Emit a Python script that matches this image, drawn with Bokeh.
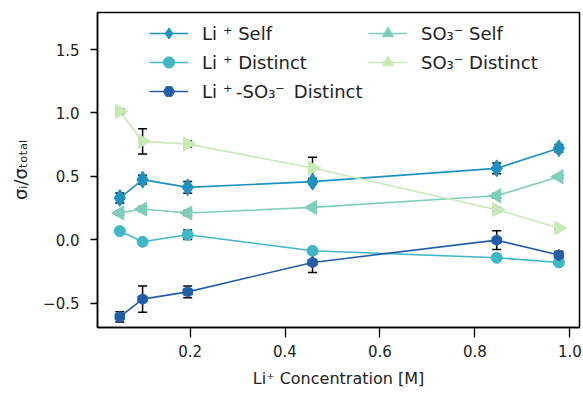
import math
from bokeh.plotting import figure
from bokeh.models import (Range1d, FixedTicker, CustomJSTickFormatter, Legend, LegendItem,
                          Whisker, TeeHead, ColumnDataSource)
from bokeh.embed import file_html
from bokeh.resources import INLINE

# ---- data ----
conc = [0.052, 0.100, 0.195, 0.458, 0.846, 0.977]

li_self = [0.329, 0.474, 0.413, 0.458, 0.563, 0.721]
li_self_err = [0.040, 0.035, 0.047, 0.020, 0.042, 0.030]

li_dist = [0.068, -0.016, 0.039, -0.087, -0.142, -0.179]
li_dist_err = [0.005, 0.015, 0.038, 0.010, 0.010, 0.010]

li_so3_dist = [-0.608, -0.468, -0.411, -0.179, -0.003, -0.121]
li_so3_dist_err = [0.040, 0.103, 0.046, 0.079, 0.074, 0.030]

so3_self = [0.211, 0.242, 0.211, 0.255, 0.347, 0.497]
so3_self_err = [0.015, 0.020, 0.020, 0.010, 0.018, 0.010]

so3_dist = [1.013, 0.776, 0.755, 0.566, 0.237, 0.092]
so3_dist_err = [0.020, 0.099, 0.024, 0.084, 0.018, 0.010]

labels = ["Li\u2004\u207a Self", "Li\u2004\u207a Distinct", "Li\u2004\u207a\u2009-SO\u2083\u207b\u2002Distinct",
          "SO\u2083\u207b Self", "SO\u2083\u207b Distinct"]
colors = ["#1d91c0", "#41b6c4", "#225ea8", "#7fcdbb", "#c7e9b4"]
x_ticks = [0.2, 0.4, 0.6, 0.8, 1.0]
y_ticks = [-0.5, 0.0, 0.5, 1.0, 1.5]

FONT = "DejaVu Sans"

p = figure(width=582, height=392, output_backend="svg", toolbar_location=None,
           x_range=Range1d(0.005, 1.0204), y_range=Range1d(-0.692, 1.792),
           min_border_left=97, min_border_right=3, min_border_top=12, min_border_bottom=65)
p.background_fill_color = "white"
p.border_fill_color = "white"
p.outline_line_color = "black"
p.outline_line_width = 1.5
p.xgrid.visible = False
p.ygrid.visible = False

fmt = CustomJSTickFormatter(code="return tick.toFixed(1).replace('-', '\u2212');")
for ax, ticks, tout in ((p.xaxis[0], x_ticks, 10), (p.yaxis[0], y_ticks, 7)):
    ax.ticker = FixedTicker(ticks=ticks)
    ax.formatter = fmt
    ax.minor_tick_line_color = None
    ax.major_tick_in = 0
    ax.major_tick_out = tout
    ax.major_tick_line_width = 1.3
    ax.major_tick_line_color = "black"
    ax.axis_line_color = "black"
    ax.axis_line_width = 1.5
    ax.major_label_text_font = FONT
    ax.major_label_text_font_size = "15px"
    ax.major_label_text_color = "#222222"
    ax.axis_label_text_font = FONT
    ax.axis_label_text_font_style = "normal"
    ax.axis_label_text_color = "#222222"

p.xaxis.axis_label = "Li\u207a Concentration [M]"
p.yaxis.axis_label = "\u03c3\u1d62/\u03c3\u209c\u2092\u209c\u2090\u2097"
p.xaxis.axis_label_text_font_size = "16px"
p.yaxis.axis_label_text_font_size = "18px"
p.xaxis.major_label_standoff = 7
p.yaxis.major_label_standoff = 11
p.xaxis.axis_label_standoff = 9
p.yaxis.axis_label_standoff = 9

series = [
    (li_self, li_self_err, "diamond", 17, 0.0),
    (li_dist, li_dist_err, "circle", 11, 0.0),
    (li_so3_dist, li_so3_dist_err, "hex", 11, math.pi / 2),
    (so3_self, so3_self_err, "triangle", 14, math.pi / 2),
    (so3_dist, so3_dist_err, "triangle", 14, -math.pi / 2),
]

items = []
for (vals, errs, marker, size, ang), lab, col in zip(series, labels, colors):
    src = ColumnDataSource(dict(
        x=conc, y=vals,
        upper=[v + e for v, e in zip(vals, errs)],
        lower=[v - e for v, e in zip(vals, errs)],
    ))
    w = Whisker(source=src, base="x", upper="upper", lower="lower", dimension="height",
                line_color="black", line_width=1.5, level="underlay",
                upper_head=TeeHead(size=9, line_color="black", line_width=1.5),
                lower_head=TeeHead(size=9, line_color="black", line_width=1.5))
    p.add_layout(w)
    lr = p.line("x", "y", source=src, line_color=col, line_width=1.6)
    sr = p.scatter("x", "y", source=src, marker=marker, size=size, angle=ang,
                   fill_color=col, line_color=col, line_width=1)
    items.append(LegendItem(label=lab, renderers=[lr, sr]))

def make_legend(its, loc):
    lg = Legend(items=its, location=loc, orientation="vertical",
                label_text_font=FONT, label_text_font_size="18px", label_text_color="#222222",
                glyph_width=39, glyph_height=28, label_height=28, spacing=1,
                label_standoff=14, padding=0, margin=0,
                border_line_color=None, background_fill_alpha=0.0)
    return lg

leg1 = make_legend(items[:3], (52, 222))
leg2 = make_legend(items[3:], (271, 251))
p.add_layout(leg1, "center")
p.add_layout(leg2, "center")

open("out.html", "w").write(file_html(p, INLINE))
